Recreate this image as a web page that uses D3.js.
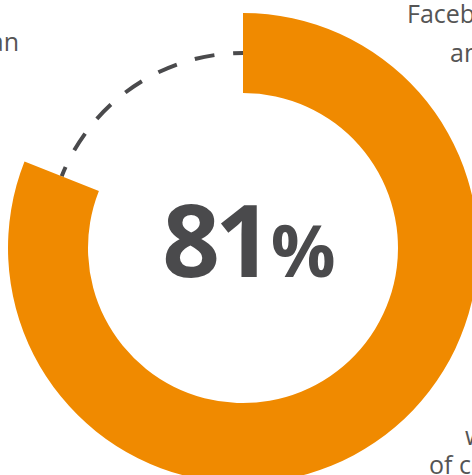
<!DOCTYPE html>
<html>
<head>
<meta charset="utf-8">
<script src="https://cdn.jsdelivr.net/npm/d3@7"></script>
<style>
  html, body { margin: 0; padding: 0; background: #fff; overflow: hidden; }
  svg { display: block; }
</style>
</head>
<body>
<svg id="chart" width="472" height="475"></svg>
<script>
// ---- data ----
const categories = ["Yes", "No"];
const values = [81, 19];
const centerValue = "81";
const centerUnit = "%";
const labelLines = [
  { text: "Facebook", x: 407, y: 23, anchor: "start" },
  { text: "and Instagram", x: 450, y: 62, anchor: "start" },
  { text: "than", x: 19, y: 51, anchor: "end" },
  { text: "worried", x: 465, y: 445, anchor: "start" },
  { text: "of content", x: 429, y: 474, anchor: "start" }
];

// ---- layout ----
const svg = d3.select("#chart");
const cx = 243, cy = 248;
const outerR = 235, innerR = 155, midR = (outerR + innerR) / 2;
const orange = "#F08A00";
const grey = "#4a4a4c";

const pie = d3.pie().sort(null).value(d => d).startAngle(0).endAngle(2 * Math.PI);
const arcs = pie(values);

const g = svg.append("g").attr("transform", `translate(${cx},${cy})`);

// dashed remainder arc
const rest = arcs[1];
const p = d3.path();
p.arc(0, 0, midR, rest.startAngle - Math.PI / 2, rest.endAngle - Math.PI / 2, false);
g.append("path")
  .attr("d", p.toString())
  .attr("fill", "none")
  .attr("stroke", grey)
  .attr("stroke-width", 4)
  .attr("stroke-dasharray", "20 18.8")
  .attr("stroke-dashoffset", 10);

// main arc
const arc = d3.arc().innerRadius(innerR).outerRadius(outerR);
g.append("path")
  .attr("d", arc(arcs[0]))
  .attr("fill", orange);

// center text
const t = svg.append("text")
  .attr("x", 249)
  .attr("y", 277)
  .attr("text-anchor", "middle")
  .attr("font-family", "'Open Sans', sans-serif")
  .attr("font-weight", 700)
  .attr("fill", grey);
t.append("tspan").attr("font-size", 101).attr("letter-spacing", -5).text(centerValue);
t.append("tspan").attr("font-size", 72).attr("dx", 3).text(centerUnit);

// labels
svg.selectAll("text.lbl")
  .data(labelLines)
  .join("text")
  .attr("class", "lbl")
  .attr("x", d => d.x)
  .attr("y", d => d.y)
  .attr("text-anchor", d => d.anchor)
  .attr("font-family", "'Open Sans', sans-serif")
  .attr("font-size", 25)
  .attr("fill", "#555")
  .text(d => d.text);
</script>
</body>
</html>
